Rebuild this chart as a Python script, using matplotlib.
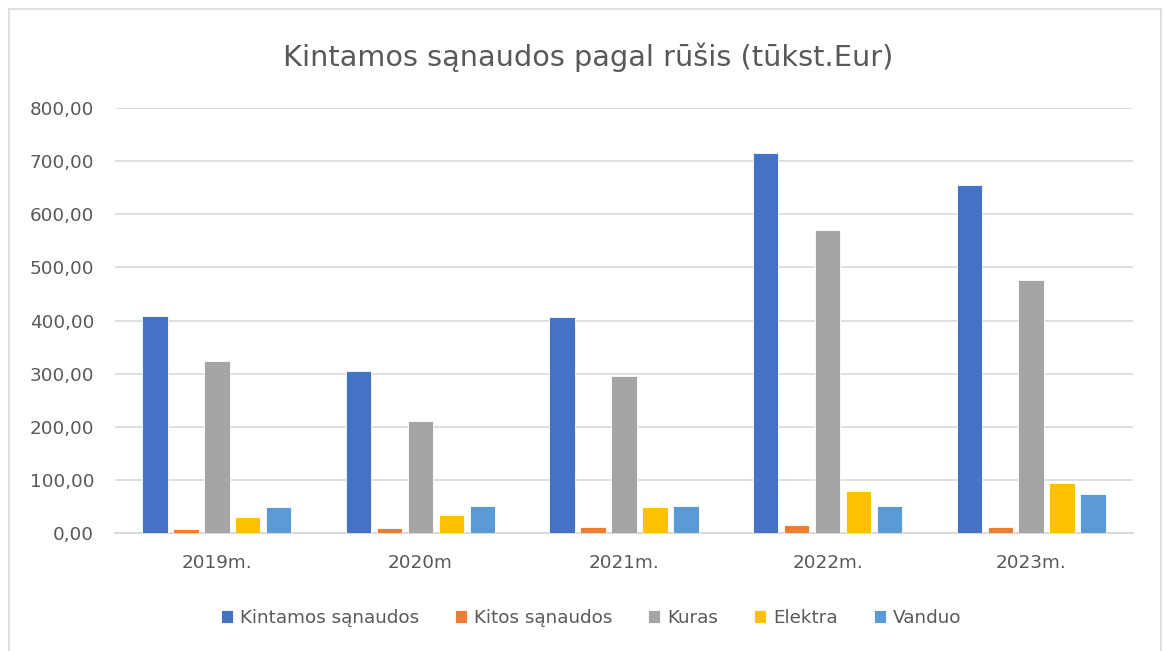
import matplotlib
matplotlib.use("Agg")
import matplotlib.pyplot as plt
import numpy as np
from matplotlib.lines import Line2D

plt.rcParams['font.family'] = ['DejaVu Sans']

categories = ["2019m.", "2020m", "2021m.", "2022m.", "2023m."]
series_names = ["Kintamos sąnaudos", "Kitos sąnaudos", "Kuras", "Elektra", "Vanduo"]
kintamos = [409.0, 305.0, 406.5, 715.0, 655.0]
kitos = [7.5, 10.0, 12.0, 15.0, 12.0]
kuras = [324.5, 210.5, 295.5, 570.5, 476.0]
elektra = [29.5, 34.5, 49.0, 78.5, 95.0]
vanduo = [49.0, 51.5, 51.5, 51.5, 73.0]
series = [kintamos, kitos, kuras, elektra, vanduo]
colors = ["#4472C4", "#ED7D31", "#A5A5A5", "#FFC000", "#5B9BD5"]
yticks = [0, 100, 200, 300, 400, 500, 600, 700, 800]
ytick_labels = ["0,00", "100,00", "200,00", "300,00", "400,00", "500,00", "600,00", "700,00", "800,00"]

W, H = 1166, 651
fig = plt.figure(figsize=(W / 100, H / 100), dpi=100)
ax = fig.add_axes([115 / W, 1 - 533 / H, (1133 - 115) / W, (533 - 108) / H])

x = np.arange(len(categories))
step = 0.152
width = 0.125
for i, (vals, c, name) in enumerate(zip(series, colors, series_names)):
    ax.bar(x + (i - 2) * step, vals, width=width, color=c, edgecolor="white",
           linewidth=0.6, label=name, zorder=3)

ax.set_xlim(-0.5, len(categories) - 0.5)
ax.set_ylim(0, 800)
ax.set_yticks(yticks)
ax.set_yticklabels(ytick_labels)
ax.set_xticks(x)
ax.set_xticklabels(categories)
ax.tick_params(axis="both", length=0, labelsize=13.2, labelcolor="#595959")
ax.tick_params(axis="y", pad=15)
ax.tick_params(axis="x", pad=15)
ax.grid(axis="y", color="#d9d9d9", linewidth=1.2, zorder=0)
for s in ["top", "right", "left"]:
    ax.spines[s].set_visible(False)
ax.spines["bottom"].set_color("#d9d9d9")
ax.spines["bottom"].set_linewidth(1.4)

fig.text(588 / W, 1 - 57 / H, "Kintamos sąnaudos pagal rūšis (tūkst.Eur)",
         ha="center", va="center", fontsize=20.7, color="#595959")

handles, labels = ax.get_legend_handles_labels()
fig.legend(handles, labels, loc="center", bbox_to_anchor=(591 / W, 1 - 618 / H),
           ncol=5, frameon=False, fontsize=13.2, labelcolor="#595959",
           handlelength=0.65, handleheight=0.65, handletextpad=0.4, columnspacing=1.95)

# chart border
border = dict(color="#d9d9d9", linewidth=1.2, transform=fig.transFigure)
fig.add_artist(Line2D([9 / W, 9 / W], [0, 1 - 9 / H], **border))
fig.add_artist(Line2D([9 / W, 1161 / W], [1 - 9 / H, 1 - 9 / H], **border))
fig.add_artist(Line2D([1161 / W, 1161 / W], [0, 1 - 9 / H], **border))

fig.savefig("out.png", dpi=100, facecolor="white")
